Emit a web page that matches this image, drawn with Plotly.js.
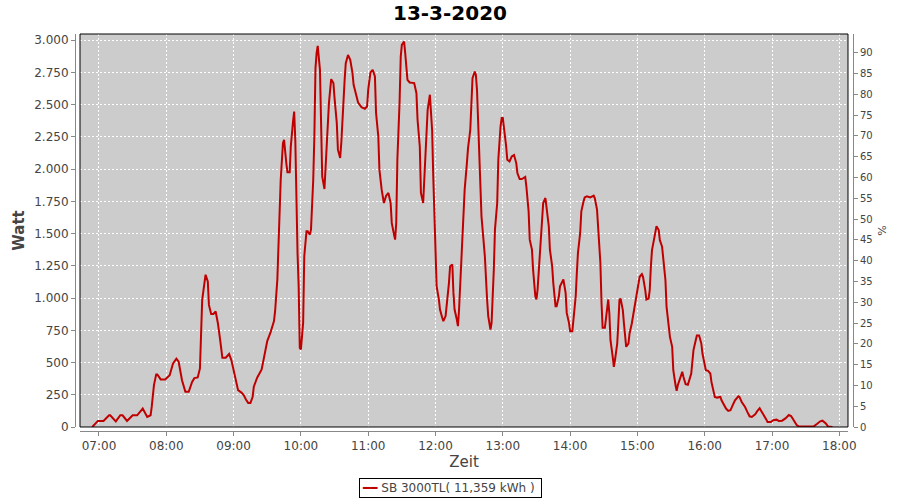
<!DOCTYPE html>
<html>
<head>
<meta charset="utf-8">
<script src="https://cdn.plot.ly/plotly-3.0.1.min.js"></script>
<style>html,body{margin:0;padding:0;background:#fff;}#chart{width:900px;height:500px;}</style>
</head>
<body>
<div id="chart"></div>
<script>
const chartDate = '2020-03-13';
const chartTitle = '13-3-2020';
const seriesName = 'SB 3000TL( 11,359 kWh )';

const times = [
 '06:54','06:59','07:04','07:09','07:10','07:15','07:19','07:21','07:25','07:30',
 '07:34','07:39','07:43','07:46','07:47','07:49','07:51','07:52','07:55','07:59',
 '08:03','08:06','08:09','08:11','08:14','08:17','08:20','08:23','08:25','08:28',
 '08:30','08:31','08:32','08:34','08:35','08:37','08:38','08:40','08:42','08:44',
 '08:46','08:48','08:50','08:53','08:56','08:58','09:00','09:02','09:04','09:07',
 '09:09','09:11','09:13','09:15','09:17','09:18','09:21','09:25','09:27','09:30',
 '09:33','09:36','09:37','09:39','09:40','09:42','09:44','09:45','09:47','09:48',
 '09:50','09:51','09:53','09:54','09:55','09:56','09:57','09:58','09:59','10:00',
 '10:02','10:03','10:05','10:06','10:08','10:09','10:11','10:12','10:13','10:14',
 '10:15','10:17','10:18','10:19','10:21','10:22','10:24','10:25','10:27','10:29',
 '10:30','10:32','10:33','10:35','10:36','10:37','10:39','10:40','10:42','10:44',
 '10:46','10:47','10:49','10:51','10:54','10:57','10:59','11:00','11:02','11:04',
 '11:06','11:07','11:09','11:10','11:12','11:14','11:16','11:18','11:20','11:21',
 '11:23','11:24','11:25','11:26','11:28','11:29','11:30','11:32','11:33','11:34',
 '11:35','11:37','11:40','11:41','11:43','11:44','11:46','11:47','11:49','11:50',
 '11:52','11:53','11:55','11:56','11:57','11:58','11:59','12:00','12:01','12:03',
 '12:04','12:06','12:07','12:09','12:10','12:12','12:13','12:15','12:16','12:17',
 '12:19','12:20','12:21','12:23','12:24','12:25','12:26','12:28','12:29','12:31',
 '12:32','12:33','12:35','12:36','12:37','12:38','12:40','12:41','12:43','12:44',
 '12:46','12:47','12:49','12:50','12:52','12:53','12:55','12:56','12:58','12:59',
 '13:00','13:01','13:03','13:04','13:06','13:08','13:10','13:12','13:13','13:15',
 '13:17','13:20','13:21','13:23','13:24','13:26','13:27','13:29','13:30','13:31',
 '13:32','13:33','13:35','13:36','13:38','13:39','13:41','13:42','13:44','13:45',
 '13:47','13:48','13:50','13:51','13:53','13:54','13:56','13:57','13:59','14:00',
 '14:02','14:03','14:05','14:06','14:07','14:09','14:10','14:12','14:13','14:15',
 '14:18','14:21','14:22','14:24','14:25','14:27','14:28','14:29','14:31','14:33',
 '14:34','14:35','14:36','14:38','14:39','14:40','14:42','14:43','14:44','14:45',
 '14:47','14:48','14:49','14:50','14:52','14:53','14:55','14:56','14:58','14:59',
 '15:01','15:02','15:04','15:05','15:07','15:08','15:10','15:11','15:12','15:13',
 '15:15','15:16','15:17','15:19','15:20','15:22','15:23','15:25','15:26','15:28',
 '15:29','15:31','15:32','15:34','15:35','15:36','15:38','15:40','15:41','15:43',
 '15:45','15:46','15:48','15:49','15:50','15:52','15:53','15:55','15:57','15:58',
 '16:00','16:01','16:03','16:05','16:06','16:08','16:09','16:11','16:14','16:15',
 '16:17','16:19','16:21','16:23','16:25','16:27','16:30','16:31','16:33','16:36',
 '16:38','16:40','16:42','16:45','16:47','16:49','16:50','16:53','16:55','16:56',
 '16:59','17:01','17:04','17:06','17:09','17:12','17:15','17:17','17:19','17:22',
 '17:24','17:33','17:37','17:40','17:43','17:45','17:48','17:50','17:54'
];

const watts = [
 0,47,47,91,91,44,91,91,47,91,
 91,143,78,91,156,325,408,408,369,369,
 402,493,530,506,363,273,273,350,379,384,
 454,688,986,1116,1181,1129,947,877,877,896,
 805,675,537,537,566,519,441,358,286,267,
 247,213,187,187,234,312,382,446,524,666,
 736,821,898,1143,1402,1918,2202,2228,2047,1975,
 1975,2176,2370,2447,2228,1583,1350,1092,614,601,
 808,1324,1518,1518,1492,1531,1918,2254,2783,2899,
 2956,2770,2305,1944,1846,1996,2305,2512,2698,2667,
 2551,2357,2151,2086,2202,2409,2693,2822,2886,2848,
 2744,2654,2577,2517,2481,2468,2486,2615,2750,2770,
 2719,2435,2254,1996,1841,1737,1794,1815,1737,1583,
 1492,1453,1583,2073,2525,2873,2964,2990,2899,2796,
 2693,2672,2672,2667,2589,2383,2176,1815,1737,1918,
 2331,2460,2577,2435,2300,1944,1660,1402,1092,989,
 911,847,821,860,937,1118,1247,1260,1040,911,
 834,782,911,1273,1479,1660,1841,2047,2163,2305,
 2564,2706,2757,2731,2615,2383,1996,1634,1428,1324,
 989,860,756,808,1221,1531,1737,2073,2331,2396,
 2396,2331,2176,2073,2060,2099,2109,2047,1970,1923,
 1923,1939,1867,1673,1453,1376,1221,1014,989,1066,
 1195,1402,1634,1737,1776,1686,1557,1376,1247,1118,
 937,937,1014,1092,1131,1144,1040,885,808,743,
 743,834,1014,1195,1350,1505,1673,1750,1781,1789,
 1781,1794,1776,1686,1531,1273,963,769,769,906,
 989,880,673,544,466,518,647,803,984,997,
 906,803,712,622,647,725,803,855,932,997,
 1087,1165,1186,1165,1062,989,997,1062,1243,1372,
 1463,1533,1558,1527,1450,1398,1295,1139,932,777,
 699,622,440,324,280,324,376,428,389,332,
 327,363,415,505,596,673,710,710,647,570,
 466,440,435,415,350,285,233,228,233,207,
 176,143,125,130,169,207,238,233,194,155,
 117,83,78,99,125,145,130,91,57,39,
 39,52,57,47,49,67,93,85,54,15,
 3,3,3,23,44,49,28,3,0
];

const xRange = ['06:43:04', '18:07:45'];
const wattRange = [0, 3048];
const percentRange = [0, 94.5];

const fontFamily = 'DejaVu Sans, Verdana, sans-serif';
const tickGray = '#444444';
const axisGray = '#888888';
const lineColor = '#c00000';

const trace = {
  type: 'scatter',
  mode: 'lines',
  name: seriesName,
  x: times.map(t => chartDate + ' ' + t),
  y: watts,
  xaxis: 'x',
  yaxis: 'y',
  line: {color: lineColor, width: 2},
  showlegend: false,
  hoverinfo: 'x+y'
};

// empty trace that only registers the right-hand percentage axis
const percentAxisTrace = {
  type: 'scatter', mode: 'lines', x: [], y: [],
  xaxis: 'x', yaxis: 'y2', showlegend: false, hoverinfo: 'skip'
};

const layout = {
  width: 900,
  height: 500,
  margin: {l: 75, r: 47, t: 34, b: 69, pad: 0},
  paper_bgcolor: '#ffffff',
  plot_bgcolor: '#cccccc',
  separators: ',.',
  font: {family: fontFamily, size: 12, color: tickGray},
  showlegend: false,
  title: {
    text: chartTitle,
    font: {family: fontFamily, size: 20, color: '#000000', weight: 'bold'},
    x: 0.5, xref: 'container', xanchor: 'center',
    y: 0.974, yref: 'container', yanchor: 'middle'
  },
  xaxis: {
    type: 'date',
    domain: [0.00643, 0.99357],
    range: xRange.map(t => chartDate + ' ' + t),
    anchor: 'free',
    position: 0,
    showline: true, linecolor: axisGray, linewidth: 1,
    ticks: 'outside', ticklen: 4, tickcolor: axisGray, tickwidth: 1,
    tick0: chartDate + ' 07:00', dtick: 3600000,
    tickformat: '%H:%M',
    tickfont: {family: fontFamily, size: 12, color: tickGray},
    showgrid: true, gridcolor: '#ffffff', gridwidth: 1, griddash: '2px,2px',
    zeroline: false,
    title: {text: 'Zeit', font: {family: fontFamily, size: 15, color: tickGray}, standoff: 3}
  },
  yaxis: {
    domain: [0.01008, 1],
    range: wattRange,
    anchor: 'free',
    position: 0,
    showline: true, linecolor: axisGray, linewidth: 1,
    ticks: 'outside', ticklen: 4, tickcolor: axisGray, tickwidth: 1,
    tick0: 0, dtick: 250,
    separatethousands: true,
    tickfont: {family: fontFamily, size: 12, color: tickGray},
    showgrid: true, gridcolor: '#ffffff', gridwidth: 1, griddash: '2px,2px',
    zeroline: false,
    title: {text: 'Watt', font: {family: fontFamily, size: 15, color: tickGray, weight: 'bold'}, standoff: 4}
  },
  yaxis2: {
    overlaying: 'y',
    side: 'right',
    anchor: 'free',
    position: 1,
    range: percentRange,
    showline: true, linecolor: axisGray, linewidth: 1,
    ticks: 'outside', ticklen: 4, tickcolor: axisGray, tickwidth: 1,
    tick0: 0, dtick: 5,
    tickfont: {family: fontFamily, size: 10, color: tickGray},
    showgrid: false,
    zeroline: false,
    title: {text: '%', font: {family: fontFamily, size: 11, color: tickGray}, standoff: 6}
  },
  annotations: [{
    xref: 'paper', yref: 'paper',
    x: 0.4825, y: -0.1436, xanchor: 'center', yanchor: 'middle',
    text: '<span style="color:' + lineColor + '">━━</span> ' + seriesName + ' ',
    showarrow: false,
    font: {family: fontFamily, size: 12, color: tickGray},
    bgcolor: '#ffffff', bordercolor: '#000000', borderwidth: 1, borderpad: 2
  }],
  shapes: [{
    type: 'rect', xref: 'x domain', yref: 'y domain',
    x0: 0, x1: 1, y0: 0, y1: 1,
    line: {color: '#000000', width: 1},
    layer: 'above'
  }]
};

Plotly.newPlot('chart', [trace, percentAxisTrace], layout, {displayModeBar: false, staticPlot: true});
</script>
</body>
</html>
